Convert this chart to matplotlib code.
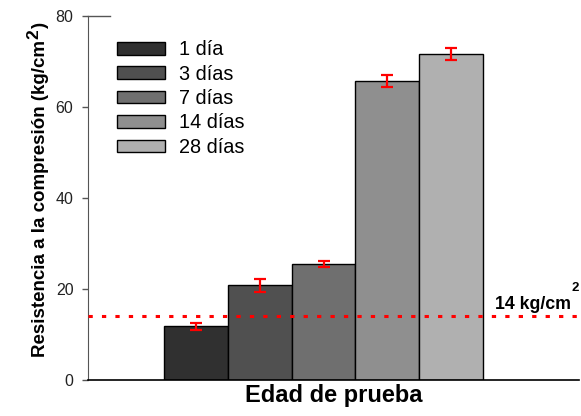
import matplotlib.pyplot as plt
from matplotlib.patches import Patch

plt.rcParams['font.family'] = ['Liberation Sans', 'DejaVu Sans']

# compressive strength by curing age
ages = ['1 día', '3 días', '7 días', '14 días', '28 días']
strength = [11.8, 20.8, 25.5, 65.7, 71.6]
errors = [0.8, 1.4, 0.7, 1.4, 1.3]
target = 14
colors = ['#303030', '#505050', '#6f6f6f', '#8f8f8f', '#b0b0b0']

fig = plt.figure(figsize=(5.81, 4.16), dpi=100)
ax = fig.add_axes([0.1515, 0.0865, 0.845, 0.875])

x = list(range(len(ages)))
ax.bar(x, strength, width=1.0, color=colors, edgecolor='black', linewidth=1.0, zorder=2)
ax.errorbar(x, strength, yerr=errors, fmt='none', ecolor='red', elinewidth=1.6,
            capsize=4.3, capthick=1.6, zorder=3)

ax.axhline(target, color='red', linewidth=2.2, linestyle=(0, (1.4, 3.0)),
           dash_capstyle='butt', zorder=4)

# "14 kg/cm²" with a raised superscript
lim = ax.text(4.6875, 15.6, '14 kg/cm', ha='left', va='baseline',
              fontsize=12.8, fontweight='bold', zorder=5)
ax.annotate('2', xy=(1, 1), xycoords=lim, xytext=(0.5, 1.5), textcoords='offset points',
            ha='left', va='bottom', fontsize=9.5, fontweight='bold', zorder=5)

ax.set_xlim(-1.6875, 6.0)
ax.set_ylim(0, 80)
ax.set_yticks([0, 20, 40, 60, 80])
ax.set_xticks([])
ax.tick_params(axis='y', labelsize=11.5, length=4.5, width=1, direction='out',
               color='#555555', labelcolor='#222222', pad=6)
for side in ['top', 'right']:
    ax.spines[side].set_visible(False)
ax.spines['left'].set_color('#555555')
ax.spines['bottom'].set_color('black')
ax.spines['bottom'].set_linewidth(1.2)
# short inner stub at the top of the y axis
ax.plot([0, 0.045], [1, 1], transform=ax.transAxes, color='#555555', linewidth=1,
        clip_on=False)

ax.set_xlabel('Edad de prueba', fontsize=17, fontweight='bold', labelpad=3)

# y label split so the superscript can be drawn full size
ylab = ax.set_ylabel('Resistencia a la compresión (kg/cm', fontsize=13.5,
                     fontweight='bold', labelpad=5)
sup = ax.annotate('2', xy=(0, 1), xycoords=ylab, xytext=(-3.5, 0.5),
                  textcoords='offset points', rotation=90, ha='left', va='bottom',
                  fontsize=12.5, fontweight='bold', annotation_clip=False)
ax.annotate(')', xy=(0, 1), xycoords=(ylab, sup), xytext=(0, 0.5),
            textcoords='offset points', rotation=90, ha='left', va='bottom',
            fontsize=13.5, fontweight='bold', annotation_clip=False)

handles = [Patch(facecolor=c, edgecolor='black', linewidth=1.0) for c in colors]
ax.legend(handles, ages, loc='upper left', bbox_to_anchor=(0.059, 0.933), frameon=False,
          fontsize=14.3, handlelength=2.42, handleheight=0.6, handletextpad=0.7,
          labelspacing=0.27, borderpad=0, borderaxespad=0)

fig.savefig('out.png', dpi=100)
